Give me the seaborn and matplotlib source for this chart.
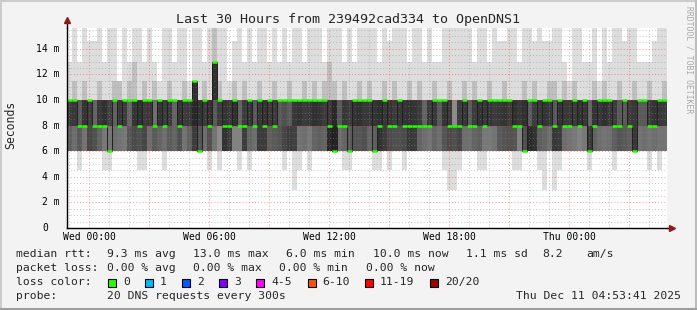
import numpy as np
import pandas as pd
import matplotlib
matplotlib.use("Agg")
import matplotlib.pyplot as plt
import matplotlib.dates as mdates
import matplotlib.transforms as mtransforms
from matplotlib.patches import Rectangle
from matplotlib.lines import Line2D
import seaborn as sns

# ---------------- data (15-minute columns, 30 hours) ----------------
# max ping of each column (ms)
TOP = [13, 15.6, 13, 15.6, 14.6, 14.6, 15.6, 13, 15.6, 15.6,
       11.5, 15.6, 13, 15.6, 15.6, 13, 15.6, 13, 11.5, 15.6,
       15.6, 13, 15.6, 15.6, 11.5, 15.6, 15.6, 13, 15.6, 15.6,
       15.6, 15.6, 11.5, 14.6, 15.6, 13, 15.6, 13, 15.6, 15.6,
       13, 15.6, 13, 15.6, 13, 15.6, 15.6, 13, 15.6, 15.6,
       15.6, 13, 15.6, 15.6, 15.6, 13, 15.6, 13, 15.6, 15.6,
       15.6, 15.6, 13, 15.6, 14.6, 15.6, 15.6, 15.6, 13, 15.6,
       15.6, 13, 15.6, 13, 13, 15.6, 15.6, 15.6, 15.6, 15.6,
       15.6, 13, 15.6, 15.6, 13, 15.6, 14.6, 14.6, 15.6, 15.6,
       13, 15.6, 15.6, 14.6, 15.6, 14.6, 14.6, 15.6, 15.6, 13,
       11.5, 15.6, 15.6, 13, 13, 15.6, 11.5, 15.6, 13, 15.6,
       15.6, 14.6, 15.6, 15.6, 13, 13, 13, 14.6, 15.6, 15.6]
# upper edge of the second (medium grey) smoke layer (ms)
MID = [10, 11.5, 10, 11.5, 10, 10, 11.5, 10, 10, 11.5,
       11.5, 10, 11.5, 13, 10, 11.5, 10, 11.5, 10, 10,
       11.5, 10, 10, 11.5, 10, 11.5, 10, 11.5, 10, 15.6,
       11.5, 10, 10, 11.5, 10, 11.5, 10, 10, 11.5, 10,
       10, 11.5, 10, 10, 11.5, 10, 10, 11.5, 10, 11.5,
       10, 11.5, 13, 11.5, 10, 11.5, 10, 10, 11.5, 10,
       11.5, 10, 10, 11.5, 10, 11.5, 10, 10, 11.5, 10,
       11.5, 10, 10, 11.5, 10, 10, 11.5, 10, 10, 11.5,
       10, 11.5, 10, 10, 11.5, 10, 10, 11.5, 10, 10,
       10, 11.5, 10, 11.5, 10, 10, 11.5, 11.5, 10, 11.5,
       10, 11.5, 10, 10, 10, 11.5, 10, 11.5, 10, 10,
       11.5, 10, 10, 11.5, 10, 10, 11.5, 10, 10, 11.5]
# grey level of the 8-10 ms smoke band
SHADE_HI = [60, 56, 90, 52, 60, 100, 56, 48, 64, 96,
            56, 60, 100, 52, 48, 60, 56, 110, 52, 60,
            56, 100, 52, 60, 56, 40, 52, 60, 48, 90,
            60, 52, 56, 48, 100, 60, 52, 90, 56, 52,
            56, 60, 90, 80, 90, 56, 52, 60, 56, 48,
            52, 60, 56, 40, 90, 56, 60, 52, 48, 56,
            56, 52, 48, 56, 52, 60, 56, 52, 48, 52,
            60, 100, 56, 56, 90, 52, 56, 140, 60, 56,
            90, 60, 52, 56, 52, 60, 56, 52, 60, 48,
            56, 48, 90, 60, 56, 52, 56, 90, 52, 56,
            56, 60, 52, 56, 100, 52, 56, 48, 56, 60,
            90, 90, 60, 56, 90, 90, 60, 52, 56, 60]
# grey level of the 6-8 ms smoke band
SHADE_LO = [95, 110, 90, 115, 70, 80, 100, 120, 115, 110,
            115, 120, 85, 75, 80, 70, 110, 90, 100, 110,
            90, 100, 80, 115, 95, 60, 85, 110, 80, 115,
            140, 50, 60, 130, 130, 60, 100, 110, 60, 60,
            95, 90, 85, 70, 60, 64, 115, 110, 120, 100,
            95, 100, 40, 36, 110, 100, 90, 85, 85, 80,
            100, 95, 50, 60, 75, 80, 80, 75, 56, 60,
            100, 110, 115, 100, 110, 85, 75, 80, 70, 110,
            110, 100, 95, 120, 120, 115, 90, 85, 80, 85,
            130, 80, 40, 50, 95, 100, 110, 56, 60, 110,
            115, 120, 130, 120, 56, 100, 110, 115, 110, 95,
            85, 90, 95, 56, 115, 110, 115, 110, 115, 115]
# median rtt (ms)
MEDIAN = [10, 10, 8, 8, 10, 8, 8, 8, 6, 10,
          8, 10, 10, 10, 8, 10, 10, 8, 10, 8,
          10, 10, 8, 10, 10, 11.5, 6, 10, 8, 13,
          10, 8, 8, 10, 8, 8, 10, 8, 10, 8,
          10, 8, 10, 10, 10, 10, 10, 10, 10, 10,
          10, 10, 8, 6, 8, 8, 6, 10, 10, 10,
          10, 6, 8, 10, 8, 8, 10, 8, 8, 8,
          8, 8, 8, 10, 10, 10, 8, 8, 8, 10,
          8, 8, 10, 8, 10, 10, 10, 10, 10, 8,
          8, 6, 10, 10, 8, 10, 10, 8, 10, 8,
          8, 10, 8, 10, 6, 8, 10, 10, 10, 8,
          8, 10, 8, 6, 10, 10, 8, 8, 10, 10]
# min ping of each column (ms)
LOW = [6, 6, 4.5, 6, 6, 6, 6, 4.5, 4.5, 6,
       6, 6, 6, 6, 4.5, 4.5, 6, 6, 6, 4.5,
       6, 6, 6, 6, 6, 6, 6, 6, 4.5, 6,
       4.5, 6, 6, 6, 4.5, 6, 4.5, 6, 6, 6,
       6, 6, 6, 4.5, 6, 3.0, 4.5, 6, 4.5, 6,
       6, 6, 6, 6, 6, 4.5, 4.5, 6, 6, 6,
       6, 4.5, 4.5, 6, 4.5, 6, 6, 4.5, 6, 6,
       6, 6, 6, 6, 6, 4.5, 3.0, 3.0, 4.5, 6,
       6, 6, 4.5, 4.5, 6, 6, 6, 6, 6, 4.5,
       4.5, 6, 6, 6, 4.5, 3.0, 6, 3.0, 4.5, 6,
       6, 6, 6, 6, 4.5, 6, 6, 6, 6, 4.5,
       6, 6, 6, 6, 6, 6, 4.5, 6, 4.5, 6]

Y_TICKS = [0, 2, 4, 6, 8, 10, 12, 14]
Y_LABELS = ["0", "2 m", "4 m", "6 m", "8 m", "10 m", "12 m", "14 m"]

TITLE = "Last 30 Hours from 239492cad334 to OpenDNS1"
RTT_STATS = ["9.3 ms avg", "13.0 ms max", "6.0 ms min", "10.0 ms now", "1.1 ms sd", "8.2", "am/s"]
LOSS_STATS = ["0.00 % avg", "0.00 % max", "0.00 % min", "0.00 % now"]
LOSS_LABELS = ["0", "1", "2", "3", "4-5", "6-10", "11-19", "20/20"]
LOSS_COLORS = ["#26ff00", "#00b8ff", "#0059ff", "#7e00ff", "#ff00ff", "#ff5500", "#ff0000", "#a10000"]
PROBE = "20 DNS requests every 300s"
STAMP = "Thu Dec 11 04:53:41 2025"
END = pd.Timestamp("2025-12-11 04:53:41")

# ---------------- figure ----------------
W, H = 697, 310
sns.set_theme(style="white")
plt.rcParams["font.family"] = ["DejaVu Sans Mono", "DejaVu Sans"]
BG = "#f3f3f3"

fig = plt.figure(figsize=(W / 100, H / 100), dpi=100, facecolor=BG)
def fx(x): return x / W
def fy(y): return 1 - y / H

L, R, T, B = 67, 667, 28, 228
ax = fig.add_axes([fx(L), fy(B), (R - L) / W, (B - T) / H], facecolor="white")

start = END - pd.Timedelta(hours=30)
times = pd.date_range(start, periods=len(MEDIAN), freq="15min")
df = pd.DataFrame({"t": mdates.date2num(times), "top": TOP, "mid": MID,
                   "shi": SHADE_HI, "slo": SHADE_LO, "median": MEDIAN, "low": LOW})
w = 15 / 1440.0

def grey(v):
    return (v / 255.0, v / 255.0, v / 255.0)

# outer smoke layer (min .. max)
ax.bar(df["t"], df["top"] - df["low"], bottom=df["low"], width=w, align="edge",
       color="#dddddd", linewidth=0, zorder=1)
# second layer
m = df["mid"] > 10
ax.bar(df["t"][m], df["mid"][m] - 10, bottom=10, width=w, align="edge",
       color="#bfbfbf", linewidth=0, zorder=1.1)
# core bands
ax.bar(df["t"], 2, bottom=8, width=w, align="edge",
       color=[grey(v) for v in df["shi"]], linewidth=0, zorder=1.2)
ax.bar(df["t"], 2, bottom=6, width=w, align="edge",
       color=[grey(v) for v in df["slo"]], linewidth=0, zorder=1.2)
hi = df["median"] > 10
ax.bar(df["t"][hi], df["median"][hi] - 10, bottom=10, width=w, align="edge",
       color="#303030", linewidth=0, zorder=1.3)

# median: thin dark step line + loss-coloured segments
step = pd.DataFrame({"t": list(df["t"]) + [df["t"].iloc[-1] + w],
                     "median": list(df["median"]) + [df["median"].iloc[-1]]})
sns.lineplot(data=step, x="t", y="median", drawstyle="steps-post", color="#202020",
             linewidth=0.7, ax=ax, zorder=3)
ax.hlines(df["median"], df["t"], df["t"] + w, color=LOSS_COLORS[0], linewidth=1.8, zorder=4)
ax.set_xlabel("")
ax.set_ylabel("")

ax.set_xlim(mdates.date2num(start), mdates.date2num(END))
ax.set_ylim(0, (B - T) / 12.8)

# grid
ax.xaxis.set_major_locator(mdates.HourLocator(byhour=range(0, 24, 3)))
ax.xaxis.set_minor_locator(mdates.HourLocator())
def xfmt(v, pos):
    d = mdates.num2date(v)
    return d.strftime("%a %H:%M") if d.hour % 6 == 0 else ""
ax.xaxis.set_major_formatter(plt.FuncFormatter(xfmt))
ax.set_yticks(Y_TICKS)
ax.set_yticks(np.arange(0, 15.75, 0.5), minor=True)
ax.set_yticklabels([])
ax.grid(True, which="minor", color="#8c8c8c", alpha=0.45, linestyle=(0, (1, 2)), linewidth=0.75)
ax.grid(True, which="major", color="#ff3030", alpha=0.45, linestyle=(0, (1, 2)), linewidth=0.75)
ax.set_axisbelow(False)
ax.tick_params(axis="both", which="both", length=0)
ax.tick_params(axis="x", labelsize=7, pad=3, colors="#000000")

tr = mtransforms.blended_transform_factory(ax.transAxes, ax.transData)
cw = 0.602 * 7 * 100 / 72
for v, lab in zip(Y_TICKS, Y_LABELS):
    extra = 0 if len(lab) > 1 else 2 * cw
    ax.text((-7 - extra) / (R - L), v, lab, transform=tr, ha="right", va="center",
            fontsize=7, color="#000000")

for s in ["top", "right"]:
    ax.spines[s].set_visible(False)
for s in ["left", "bottom"]:
    ax.spines[s].set_color("#000000")
    ax.spines[s].set_linewidth(1.0)
    ax.spines[s].set_zorder(5)

# axis arrows
arrow = "#8b1a1a"
fig.add_artist(Line2D([fx(L), fx(L)], [fy(T), fy(22)], color="#000000", linewidth=1.0))
fig.add_artist(Line2D([fx(R), fx(670)], [fy(B), fy(B)], color="#000000", linewidth=1.0))
fig.add_artist(Line2D([fx(L)], [fy(20)], marker="^", markersize=5, color=arrow, linestyle=""))
fig.add_artist(Line2D([fx(672)], [fy(B)], marker=">", markersize=5, color=arrow, linestyle=""))

# texts
fig.text(fx(348), fy(20), TITLE, ha="center", va="center", fontsize=9.6)
fig.text(fx(11), fy(125), "Seconds", rotation=90, ha="center", va="center", fontsize=8.3)
fig.text(fx(688.5), fy(60), "RRDTOOL / TOBI OETIKER", rotation=270, ha="center", va="center",
         fontsize=5.8, color="#a8a8a8")

fs = 8.2
rows = [254, 268, 282, 296]
fig.text(fx(16), fy(rows[0]), "median rtt:", fontsize=fs, va="center")
for x, s in zip([107, 192.7, 286, 372.7, 466, 542.7, 586], RTT_STATS):
    fig.text(fx(x), fy(rows[0]), s, fontsize=fs, va="center")
fig.text(fx(16), fy(rows[1]), "packet loss:", fontsize=fs, va="center")
for x, s in zip([107, 192.7, 279.3, 366], LOSS_STATS):
    fig.text(fx(x), fy(rows[1]), s, fontsize=fs, va="center")
fig.text(fx(16), fy(rows[2]), "loss color:", fontsize=fs, va="center")
box_x = [108, 145, 182, 219, 256, 307.5, 365, 430]
for bx, lab, c in zip(box_x, LOSS_LABELS, LOSS_COLORS):
    fig.add_artist(Rectangle((fx(bx), fy(286.5)), 8 / W, 8 / H, transform=fig.transFigure,
                             facecolor=c, edgecolor="#000000", linewidth=0.8))
    fig.text(fx(bx + 15), fy(rows[2]), lab, fontsize=fs, va="center")
fig.text(fx(16), fy(rows[3]), "probe:", fontsize=fs, va="center")
fig.text(fx(107), fy(rows[3]), PROBE, fontsize=fs, va="center")
fig.text(fx(681), fy(rows[3]), STAMP, fontsize=fs, va="center", ha="right")

# frame
fig.add_artist(Line2D([0, 1], [fy(1), fy(1)], color="#cccccc", linewidth=1.5))
fig.add_artist(Line2D([fx(1), fx(1)], [0, 1], color="#cccccc", linewidth=1.5))
fig.add_artist(Line2D([fx(696), fx(696)], [0, 1], color="#bdbdbd", linewidth=1.5))
fig.add_artist(Line2D([0, 1], [fy(308.5), fy(308.5)], color="#9e9e9e", linewidth=2.2))

fig.savefig("out.png", dpi=100, facecolor=BG)
